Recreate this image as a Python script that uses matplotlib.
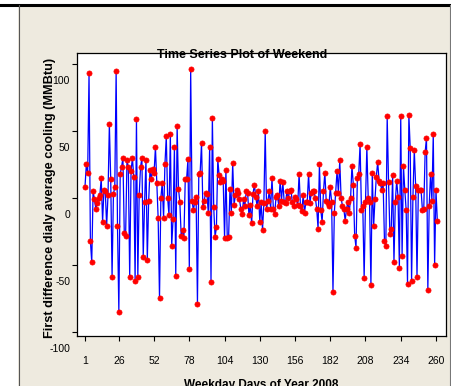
import numpy as np
import matplotlib
matplotlib.use("Agg")
import matplotlib.pyplot as plt
import matplotlib.transforms as mtrans
from matplotlib.lines import Line2D
from matplotlib.patches import Rectangle

# first difference values in chunks of weekdays
vals_001_041 = [8, 25, 19, 93, -32, -48, 5, -1, -8, -4, 0, 2, 15, -18, 6, 5, -21, 2, 55, 14,
                -59, 3, 8, 95, -21, -85, 18, 23, 30, -26, -28, 28, 23, -59, 20, 30, 16, -62, 59, -59, 2]
vals_042_085 = [23, 30, -44, -3, 28, -46, -2, 21, 14, 22, 19, 38, 11, -15, -75, 0, 11, -15, 25, 46,
                0, -13, 48, -36, -16, 38, -58, 54, 7, -3, -28, -24, -30, 14, 14, 29, -53, 96, -2, -9,
                -3, 1, -79, 18]
vals_086_130 = [19, 41, -7, -2, 4, 3, -11, 38, -63, 60, -7, -29, -22, 29, 17, 12, 14, 13, -30, 21,
                -30, -29, 7, -11, 26, -5, 2, 6, 4, -1, -8, -12, -1, -6, 5, 4, -13, -5, -19, 3,
                10, 1, -6, 5, -18]
vals_131_174 = [-3, -24, -4, 50, -8, -2, 5, -8, 15, -8, -12, 1, 2, -6, 13, -2, 12, -3, -4, 5,
                0, 5, 6, -3, -6, 1, -1, -5, 18, -6, -10, 2, -11, -3, -3, 18, -4, 4, 5, 5,
                0, -8, -23, 25]
vals_175_217 = [-9, -18, 5, 19, -2, -4, -6, 8, -3, -70, -11, 4, 20, 4, 28, 0, -6, -8, -17, -8,
                -3, -11, 0, 24, 10, -28, -37, 15, 18, 40, -9, -6, -60, -3, 38, 0, -3, -65, 19, -21,
                -1, 16, 27]
vals_218_261 = [13, 11, 6, 11, -32, -36, 61, 12, -27, -23, 17, -48, -3, 13, 1, -52, 61, -43, 24, 6,
                -9, -64, 62, 37, -62, 1, 36, 9, -59, 6, 6, 6, -9, -8, 34, 45, -69, -6, 18, -2,
                48, -50, 6, -17]

x_ticks = [1, 26, 52, 78, 104, 130, 156, 182, 208, 234, 260]
y_ticks = [-100, -50, 0, 50, 100]

values = np.array(vals_001_041 + vals_042_085 + vals_086_130 +
                  vals_131_174 + vals_175_217 + vals_218_261)
days = np.arange(1, len(values) + 1)

plt.rcParams['axes.unicode_minus'] = False
fam = ['Liberation Sans', 'DejaVu Sans']
bg = '#EEEADF'

fig = plt.figure(figsize=(4.51, 3.86), dpi=100, facecolor=bg)

# white strips + frame lines of the screenshot
fig.patches.append(Rectangle((0, 0), 18 / 451, 1, transform=fig.transFigure,
                             facecolor='white', edgecolor='none', zorder=0))
fig.patches.append(Rectangle((0, 1 - 4 / 386), 1, 4 / 386, transform=fig.transFigure,
                             facecolor='white', edgecolor='none', zorder=0))
fig.lines.append(Line2D([0, 1], [1 - 5 / 386, 1 - 5 / 386], transform=fig.transFigure,
                        color='black', lw=2.2))
fig.lines.append(Line2D([18.5 / 451, 18.5 / 451], [0, 1 - 5 / 386], transform=fig.transFigure,
                        color='#555555', lw=0.8))
fig.lines.append(Line2D([449.5 / 451, 449.5 / 451], [0, 1 - 5 / 386], transform=fig.transFigure,
                        color='#777777', lw=0.8))

ax = fig.add_axes([76.7 / 451, 1 - 336 / 386, (446 - 76.7) / 451, (336 - 53) / 386])
ax.set_facecolor('white')

ax.plot(days, values, color='#0000FF', lw=0.9, zorder=2)
ax.plot(days, values, 'o', color='#FF0000', ms=3.7, mec='#FF0000', mew=0.5, zorder=3)

ax.set_xlim(-5.1, 267.4)
ax.set_ylim(-103, 108.2)
ax.set_xticks(x_ticks)
ax.set_yticks(y_ticks)
ax.tick_params(axis='both', direction='out', length=3.3, width=0.8, color='black',
               labelsize=7.5)
ax.tick_params(axis='x', pad=11)
ax.tick_params(axis='y', pad=1.5)
for lab in ax.get_xticklabels() + ax.get_yticklabels():
    lab.set_family(fam)

# the y labels sit lower than their ticks in the original
shift = mtrans.ScaledTranslation(0, -16 / 100, fig.dpi_scale_trans)
for lab in ax.get_yticklabels():
    lab.set_transform(lab.get_transform() + shift)

for s in ax.spines.values():
    s.set_linewidth(0.9)
    s.set_color('black')

fig.text(242 / 451, 1 - 55 / 386, 'Time Series Plot of Weekend', ha='center', va='center',
         fontsize=9, fontweight='bold', family=fam, zorder=5)
fig.text(50 / 451, 1 - 198 / 386, 'First difference dialy average cooling (MMBtu)',
         rotation=90, ha='center', va='center', fontsize=9.2, fontweight='bold', family=fam)
fig.text(261 / 451, 1 - 385 / 386, 'Weekday Days of Year 2008', ha='center', va='center',
         fontsize=8.5, fontweight='bold', family=fam)

fig.savefig('out.png', dpi=100, facecolor=bg)
